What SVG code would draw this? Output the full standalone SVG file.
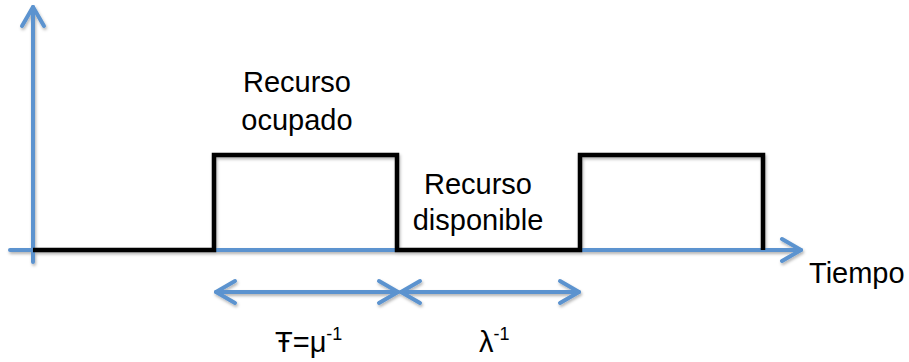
<svg xmlns="http://www.w3.org/2000/svg" width="909" height="362" viewBox="0 0 909 362">
<style>
.axis{stroke:#5B93CF;stroke-width:4;fill:none;stroke-linecap:round;}
.sig{stroke:#000;stroke-width:4.5;fill:none;stroke-linejoin:miter;}
.lbl{font-family:"Liberation Sans",Arial,sans-serif;font-size:29px;fill:#000;}
.sup{font-size:18px;}
</style>
<defs>
<filter id="sh" x="-5%" y="-5%" width="110%" height="120%">
<feDropShadow dx="1" dy="2" stdDeviation="1.5" flood-color="#000" flood-opacity="0.3"/>
</filter>
<marker id="chev" markerUnits="userSpaceOnUse" viewBox="-24 -14 28 28" refX="0" refY="0" markerWidth="28" markerHeight="28" orient="auto-start-reverse">
<path d="M-19,-11 L0,0 L-19,11" fill="none" stroke="#5B93CF" stroke-width="4" stroke-linecap="round" stroke-linejoin="round"/>
</marker>
</defs>
<rect width="909" height="362" fill="#fff"/>
<g id="connectors" filter="url(#sh)">
<line id="y-axis" class="axis" x1="33" y1="262" x2="33" y2="7" marker-end="url(#chev)"/>
<line id="x-axis" class="axis" x1="10" y1="250" x2="801" y2="250" marker-end="url(#chev)"/>
<line id="dur-busy" class="axis" x1="216" y1="292" x2="398" y2="292" marker-start="url(#chev)" marker-end="url(#chev)"/>
<line id="dur-free" class="axis" x1="401" y1="292" x2="579" y2="292" marker-start="url(#chev)" marker-end="url(#chev)"/>
<polyline id="signal" class="sig" points="33,250 214,250 214,155 397,155 397,250 580,250 580,155 763,155 763,250"/>
</g>
<g id="label-ocupado">
<text class="lbl" x="297" y="92" text-anchor="middle">Recurso</text>
<text class="lbl" x="297" y="130" text-anchor="middle">ocupado</text>
</g>
<g id="label-disponible">
<text class="lbl" x="478" y="194" text-anchor="middle">Recurso</text>
<text class="lbl" x="478" y="230" text-anchor="middle">disponible</text>
</g>
<g id="label-tiempo">
<text class="lbl" x="809" y="283">Tiempo</text>
</g>
<g id="label-mu">
<text class="lbl" x="275" y="352">Ŧ=μ<tspan class="sup" dy="-12">-1</tspan></text>
</g>
<g id="label-lambda">
<text class="lbl" x="479" y="352">λ<tspan class="sup" dy="-12">-1</tspan></text>
</g>
</svg>
